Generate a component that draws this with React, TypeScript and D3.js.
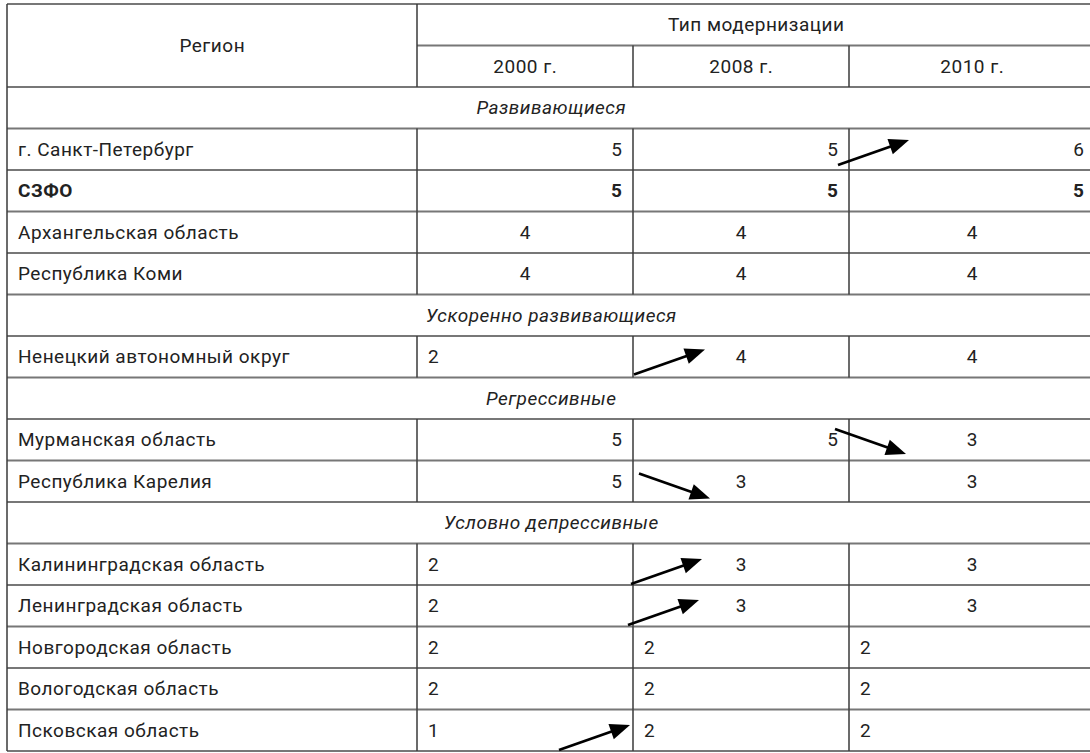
import React from "react";
import * as d3 from "d3";

const years = ["2000 г.", "2008 г.", "2010 г."];
const headerRegion = "Регион";
const headerType = "Тип модернизации";

type Row = { kind: "group"; label: string } | { kind: "data"; label: string; values: number[]; bold?: boolean };

const groups = ["Развивающиеся", "Ускоренно развивающиеся", "Регрессивные", "Условно депрессивные"];
const groupSizes = [4, 1, 2, 5];
const regions = [
  "г. Санкт-Петербург", "СЗФО", "Архангельская область", "Республика Коми",
  "Ненецкий автономный округ",
  "Мурманская область", "Республика Карелия",
  "Калининградская область", "Ленинградская область", "Новгородская область", "Вологодская область", "Псковская область",
];
const values2000 = [5, 5, 4, 4, 2, 5, 5, 2, 2, 2, 2, 1];
const values2008 = [5, 5, 4, 4, 4, 5, 3, 3, 3, 2, 2, 2];
const values2010 = [6, 5, 4, 4, 4, 3, 3, 3, 3, 2, 2, 2];
const boldRegions = ["СЗФО"];

// arrows: region, column edge they sit at, direction (1 up, -1 down), tail offsets
const arrows = [
  { region: "г. Санкт-Петербург", edge: 3, dir: 1, dx: -11, dy: -5 },
  { region: "Ненецкий автономный округ", edge: 2, dir: 1, dx: 1, dy: -3 },
  { region: "Мурманская область", edge: 3, dir: -1, dx: -14, dy: 10 },
  { region: "Республика Карелия", edge: 2, dir: -1, dx: 6, dy: 13 },
  { region: "Калининградская область", edge: 2, dir: 1, dx: -2, dy: -1 },
  { region: "Ленинградская область", edge: 2, dir: 1, dx: -5, dy: -1.5 },
  { region: "Псковская область", edge: 2, dir: 1, dx: -74, dy: -1 },
];

const rows: Row[] = [];
{
  let k = 0;
  groups.forEach((g, gi) => {
    rows.push({ kind: "group", label: g });
    for (let i = 0; i < groupSizes[gi]; i++, k++) {
      rows.push({
        kind: "data",
        label: regions[k],
        values: [values2000[k], values2008[k], values2010[k]],
        bold: boldRegions.includes(regions[k]),
      });
    }
  });
}

const W = 1090;
const H = 753;
const FONT = "Roboto, 'DejaVu Sans Condensed', sans-serif";

export default function App() {
  const top = 4;
  const rowH = 41.5;
  const nRows = rows.length + 2;
  const y = d3.scaleLinear().domain([0, nRows]).range([top, top + rowH * nRows]);
  const colEdges = [7, 417, 633, 849, 1095];
  const xCol = d3.scaleOrdinal<number, number>().domain([0, 1, 2, 3, 4]).range(colEdges);

  const hColor = "#777";
  const vColor = "#3a3a3a";
  const textColor = "#222";
  const fs = 19;
  const ls = 0.5;
  const pad = 11;

  const T = (key: string, x: number, yy: number, s: string, anchor: "start" | "middle" | "end" = "start", extra: any = {}) => (
    <text key={key} x={x} y={yy} textAnchor={anchor} dominantBaseline="central" fontSize={fs} letterSpacing={ls}
      fill={textColor} dx={anchor === "middle" ? ls / 2 : anchor === "end" ? ls : 0} {...extra}>{s}</text>
  );

  const elems: React.ReactNode[] = [];
  elems.push(T("hreg", (xCol(0) + xCol(1)) / 2, y(1), headerRegion, "middle"));
  elems.push(T("htype", (xCol(1) + xCol(4)) / 2, y(0.5), headerType, "middle"));
  years.forEach((yr, i) => {
    elems.push(T("yr" + i, (xCol(i + 1) + xCol(i + 2)) / 2, y(1.5), yr, "middle"));
  });

  const hLines: React.ReactNode[] = [];
  hLines.push(<line key="ht" x1={xCol(0)} x2={xCol(4)} y1={y(0)} y2={y(0)} stroke={hColor} strokeWidth={2} />);
  hLines.push(<line key="hm" x1={xCol(1)} x2={xCol(4)} y1={y(1)} y2={y(1)} stroke={hColor} strokeWidth={2} />);
  for (let r = 2; r <= nRows; r++) {
    hLines.push(<line key={"h" + r} x1={xCol(0)} x2={xCol(4)} y1={y(r)} y2={y(r)} stroke={hColor} strokeWidth={2} />);
  }

  const vLines: React.ReactNode[] = [];
  vLines.push(<line key="vl" x1={xCol(0)} x2={xCol(0)} y1={y(0)} y2={y(nRows)} stroke={vColor} strokeWidth={1.5} />);
  vLines.push(<line key="vh1" x1={xCol(1)} x2={xCol(1)} y1={y(0)} y2={y(2)} stroke={vColor} strokeWidth={1.5} />);
  vLines.push(<line key="vh2" x1={xCol(2)} x2={xCol(2)} y1={y(1)} y2={y(2)} stroke={vColor} strokeWidth={1.5} />);
  vLines.push(<line key="vh3" x1={xCol(3)} x2={xCol(3)} y1={y(1)} y2={y(2)} stroke={vColor} strokeWidth={1.5} />);

  rows.forEach((row, ri) => {
    const r = ri + 2;
    const cy = y(r + 0.5);
    if (row.kind === "group") {
      elems.push(T("g" + ri, (xCol(0) + xCol(4)) / 2, cy, row.label, "middle", { fontStyle: "italic" }));
    } else {
      for (let c = 1; c <= 3; c++) {
        vLines.push(<line key={`v${ri}-${c}`} x1={xCol(c)} x2={xCol(c)} y1={y(r)} y2={y(r + 1)} stroke={vColor} strokeWidth={1.5} />);
      }
      const fw = row.bold ? "bold" : "normal";
      elems.push(T("l" + ri, xCol(0) + pad, cy, row.label, "start", { fontWeight: fw }));
      row.values.forEach((v, vi) => {
        const x0 = xCol(vi + 1), x1 = xCol(vi + 2);
        let x = (x0 + x1) / 2;
        let anchor: "start" | "middle" | "end" = "middle";
        if (v >= 5) { x = x1 - pad; anchor = "end"; }
        else if (v <= 2) { x = x0 + pad; anchor = "start"; }
        elems.push(T(`t${ri}-${vi}`, x, cy, String(v), anchor, { fontWeight: fw }));
      });
    }
  });

  const arrowEls = arrows.map((a, i) => {
    const ri = rows.findIndex((r) => r.kind === "data" && r.label === a.region);
    const r = ri + 2;
    const len = 71;
    const rise = 25;
    const x1 = xCol(a.edge) + a.dx;
    const y1 = (a.dir > 0 ? y(r + 1) : y(r)) + a.dy;
    const x2 = x1 + len;
    const y2 = y1 - a.dir * rise;
    const ang = Math.atan2(y2 - y1, x2 - x1);
    const hl = 20, hw = 8;
    const bxh = x2 - hl * Math.cos(ang), byh = y2 - hl * Math.sin(ang);
    const px = -Math.sin(ang) * hw, py = Math.cos(ang) * hw;
    const head = d3.path();
    head.moveTo(x2, y2);
    head.lineTo(bxh + px, byh + py);
    head.lineTo(bxh - px, byh - py);
    head.closePath();
    return (
      <g key={"a" + i}>
        <line x1={x1} y1={y1} x2={bxh + 2 * Math.cos(ang)} y2={byh + 2 * Math.sin(ang)} stroke="#000" strokeWidth={2.8} />
        <path d={head.toString()} fill="#000" />
      </g>
    );
  });

  return (
    <svg width={W} height={H} style={{ position: "absolute", left: 0, top: 0, background: "#fff" }} fontFamily={FONT}>
      <rect x={0} y={0} width={W} height={H} fill="#fff" />
      {hLines}
      {vLines}
      {elems}
      {arrowEls}
    </svg>
  );
}
